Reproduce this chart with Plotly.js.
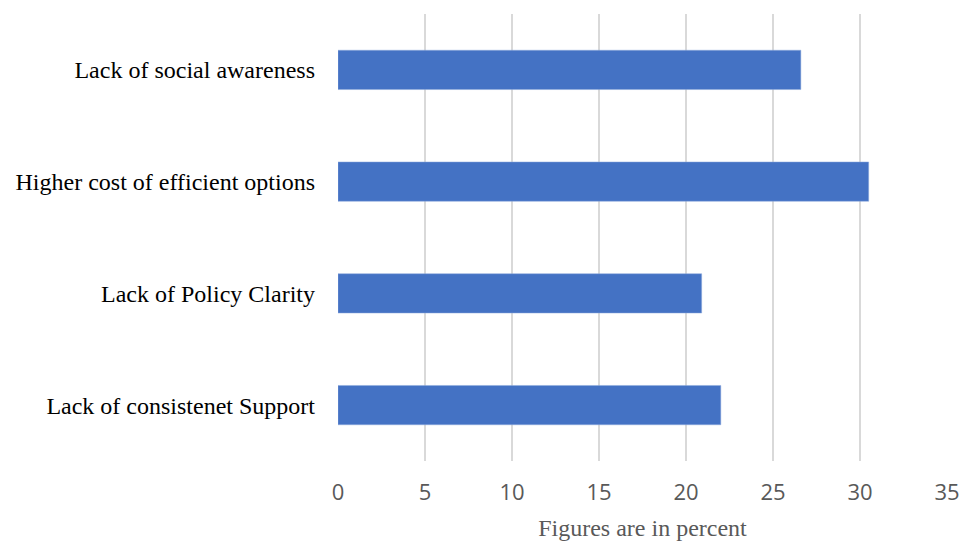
<!DOCTYPE html>
<html>
<head>
<meta charset="utf-8">
<script src="https://cdn.plot.ly/plotly-3.0.1.min.js"></script>
<style>html,body{margin:0;padding:0;background:#fff;}#chart{width:968px;height:544px;}</style>
</head>
<body>
<div id="chart"></div>
<script>
const categories = ["Lack of consistenet Support", "Lack of Policy Clarity", "Higher cost of efficient options", "Lack of social awareness"];
const values = [22.0, 20.9, 30.5, 26.6];
const tickVals = [0, 5, 10, 15, 20, 25, 30, 35];

const trace = {
  type: 'bar',
  orientation: 'h',
  y: categories,
  x: values,
  marker: {color: '#4472C4', line: {color: '#8FAADC', width: 0.5}},
  hoverinfo: 'x+y'
};

const layout = {
  width: 968, height: 544,
  margin: {l: 338, r: 21, t: 14, b: 83},
  paper_bgcolor: '#ffffff', plot_bgcolor: '#ffffff',
  bargap: 0.648,
  showlegend: false,
  xaxis: {
    range: [0, 35],
    tickvals: tickVals,
    ticktext: tickVals.map(String),
    showgrid: true, gridcolor: '#D9D9D9', gridwidth: 2,
    zeroline: false, showline: false,
    ticks: '', ticklabelstandoff: 16,
    tickfont: {family: 'Open Sans, sans-serif', size: 22, color: '#595959'},
    title: {text: 'Figures are in percent', standoff: 14,
            font: {family: 'Liberation Serif, serif', size: 24, color: '#595959'}},
    fixedrange: true
  },
  yaxis: {
    showgrid: false, zeroline: false, showline: false,
    ticks: '', ticklabelstandoff: 22,
    tickfont: {family: 'Liberation Serif, serif', size: 24, color: '#000000'},
    fixedrange: true
  }
};

Plotly.newPlot('chart', [trace], layout, {displayModeBar: false, staticPlot: true});
</script>
</body>
</html>
